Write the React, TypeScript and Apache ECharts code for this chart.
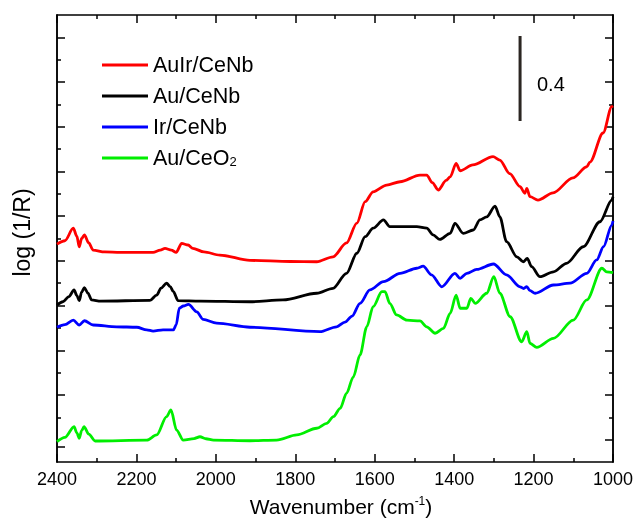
import React, { useEffect, useRef } from "react";
import * as echarts from "echarts";

// Wavenumber (cm-1), log(1/R)
const auIrCeNb: [number, number][] = [
  [2400, 0.975], [2380, 0.99], [2359, 1.046], [2350, 1.01], [2344, 0.963], [2338, 1.0], [2331, 1.016],
  [2320, 0.98], [2309, 0.948], [2280, 0.94], [2241, 0.938], [2158, 0.938], [2140, 0.948], [2128, 0.956],
  [2112, 0.948], [2100, 0.938], [2086, 0.978], [2070, 0.971], [2058, 0.956], [2030, 0.94], [1990, 0.926],
  [1914, 0.902], [1813, 0.897], [1746, 0.896], [1705, 0.918], [1671, 0.98], [1645, 1.069], [1624, 1.165],
  [1604, 1.209], [1570, 1.239], [1536, 1.254], [1486, 1.284], [1469, 1.284], [1455, 1.25], [1440, 1.217],
  [1420, 1.26], [1410, 1.276], [1395, 1.336], [1385, 1.303], [1353, 1.329], [1302, 1.366], [1285, 1.351],
  [1260, 1.29], [1234, 1.232], [1222, 1.202], [1217, 1.224], [1209, 1.187], [1189, 1.172], [1151, 1.204],
  [1101, 1.271], [1066, 1.321], [1058, 1.342], [1025, 1.472], [1003, 1.59], [1000, 1.593],
];

const auCeNb: [number, number][] = [
  [2400, 0.702], [2385, 0.717], [2370, 0.74], [2357, 0.77], [2350, 0.745], [2344, 0.722], [2338, 0.76],
  [2331, 0.78], [2322, 0.755], [2313, 0.725], [2290, 0.72], [2166, 0.723], [2149, 0.747], [2138, 0.778],
  [2124, 0.8], [2115, 0.785], [2107, 0.762], [2095, 0.722], [2040, 0.72], [1914, 0.717], [1831, 0.725],
  [1746, 0.755], [1705, 0.777], [1671, 0.844], [1645, 0.934], [1624, 1.008], [1604, 1.046], [1578, 1.083],
  [1562, 1.053], [1536, 1.053], [1494, 1.053], [1469, 1.046], [1453, 1.016], [1436, 0.996], [1410, 1.023],
  [1398, 1.068], [1377, 1.023], [1352, 1.038], [1335, 1.083], [1318, 1.097], [1297, 1.145], [1285, 1.097],
  [1268, 0.986], [1242, 0.918], [1226, 0.896], [1216, 0.911], [1205, 0.874], [1184, 0.829], [1150, 0.851],
  [1117, 0.889], [1075, 0.963], [1033, 1.075], [1003, 1.172], [1000, 1.186],
];

const irCeNb: [number, number][] = [
  [2400, 0.603], [2380, 0.615], [2359, 0.635], [2344, 0.613], [2331, 0.632], [2309, 0.613], [2250, 0.605],
  [2199, 0.603], [2174, 0.591], [2158, 0.586], [2133, 0.591], [2107, 0.591], [2100, 0.613], [2092, 0.688],
  [2082, 0.698], [2069, 0.705], [2048, 0.672], [2032, 0.638], [1998, 0.621], [1914, 0.603], [1738, 0.583],
  [1696, 0.605], [1675, 0.626], [1657, 0.653], [1637, 0.71], [1612, 0.77], [1578, 0.807], [1536, 0.844],
  [1494, 0.867], [1478, 0.876], [1457, 0.837], [1431, 0.784], [1398, 0.844], [1385, 0.822], [1368, 0.844],
  [1343, 0.862], [1301, 0.886], [1268, 0.837], [1234, 0.784], [1225, 0.776], [1217, 0.785], [1210, 0.768],
  [1196, 0.755], [1150, 0.792], [1108, 0.8], [1066, 0.844], [1041, 0.904], [1024, 0.963], [1003, 1.06],
  [1000, 1.078],
];

const auCeO2: [number, number][] = [
  [2400, 0.091], [2380, 0.11], [2357, 0.158], [2350, 0.13], [2344, 0.106], [2338, 0.14], [2332, 0.158],
  [2320, 0.125], [2304, 0.094], [2174, 0.098], [2149, 0.121], [2124, 0.203], [2113, 0.233], [2099, 0.143],
  [2082, 0.098], [2055, 0.105], [2040, 0.113], [2025, 0.104], [2006, 0.098], [1914, 0.095], [1847, 0.098],
  [1796, 0.121], [1746, 0.151], [1721, 0.173], [1704, 0.203], [1687, 0.24], [1671, 0.307], [1654, 0.38],
  [1637, 0.479], [1620, 0.605], [1604, 0.695], [1582, 0.762], [1574, 0.762], [1562, 0.71], [1545, 0.658],
  [1519, 0.635], [1486, 0.631], [1469, 0.605], [1448, 0.576], [1427, 0.598], [1410, 0.665], [1395, 0.747],
  [1385, 0.688], [1368, 0.688], [1358, 0.732], [1347, 0.71], [1318, 0.755], [1300, 0.829], [1285, 0.755],
  [1259, 0.65], [1230, 0.538], [1217, 0.583], [1209, 0.531], [1192, 0.513], [1150, 0.553], [1100, 0.635],
  [1066, 0.725], [1028, 0.867], [1016, 0.851], [1000, 0.847],
];

const seriesNames = ["AuIr/CeNb", "Au/CeNb", "Ir/CeNb", "Au/CeO2"];
const seriesColors = ["#ff0000", "#000000", "#0000ff", "#00ee00"];

// scale bar (0.4 units)
const scaleBar: [number, number][] = [[1234, 1.906], [1234, 1.526]];
const scaleBarLabel = "0.4";

const xMin = 1000;
const xMax = 2400;
const xInterval = 200;
const yMin = 0;
const yMax = 2;
const yLeftMajorTicks = [0.07, 0.3, 0.5, 0.7, 0.9, 1.1, 1.3, 1.5, 1.7, 1.9];
const yRightMajorTicks = [0.1, 0.3, 0.5, 0.7, 0.9, 1.1, 1.3, 1.5, 1.7, 1.9];
const yMinorTicks = [0.2, 0.4, 0.6, 0.8, 1.0, 1.2, 1.4, 1.6, 1.8];

const FONT = "'Liberation Sans', Arial, sans-serif";

export default function App() {
  const ref = useRef<HTMLDivElement>(null);
  useEffect(() => {
    if (!ref.current) return;
    const chart = echarts.init(ref.current, undefined, { renderer: "svg" });
    const axisLineStyle = { color: "#000", width: 1.5 };
    const mkY = (position: "left" | "right", ticks: number[], len: number, extra: any = {}) => ({
      type: "value",
      min: yMin,
      max: yMax,
      position,
      axisLine: { show: true, onZero: false, lineStyle: axisLineStyle },
      axisLabel: { show: false },
      splitLine: { show: false },
      axisTick: { show: true, inside: true, length: len, customValues: ticks, lineStyle: axisLineStyle },
      ...extra,
    });
    const mkX = (position: "top" | "bottom", showLabel: boolean, extra: any = {}) => ({
      type: "value",
      min: xMin,
      max: xMax,
      interval: xInterval,
      inverse: true,
      position,
      axisLine: { show: true, onZero: false, lineStyle: axisLineStyle },
      axisLabel: {
        show: showLabel,
        fontSize: 18,
        color: "#000",
        fontFamily: FONT,
        margin: 8,
        formatter: (v: number) => String(v),
      },
      splitLine: { show: false },
      axisTick: { show: true, inside: true, length: 8, lineStyle: axisLineStyle },
      minorTick: { show: true, splitNumber: 2, length: 4, lineStyle: axisLineStyle },
      ...extra,
    });
    const lines = [auIrCeNb, auCeNb, irCeNb, auCeO2].map((d, i) => ({
      name: seriesNames[i],
      type: "line",
      data: d,
      showSymbol: false,
      symbol: "none",
      smooth: 0.3,
      smoothMonotone: "x",
      color: seriesColors[i],
      lineStyle: { color: seriesColors[i], width: 2.8 },
      xAxisIndex: 0,
      yAxisIndex: 0,
      z: 10 - i,
    }));
    chart.setOption({
      animation: false,
      grid: { left: 57, right: 20, top: 15, bottom: 58, containLabel: false, outerBoundsMode: "none" },
      legend: {
        data: seriesNames,
        orient: "vertical",
        left: 102,
        top: 54,
        padding: 0,
        itemGap: 9,
        itemWidth: 46,
        itemHeight: 3,
        icon: "rect",
        textStyle: {
          fontSize: 21.5,
          lineHeight: 20,
          color: "#000",
          fontFamily: FONT,
          rich: {
            n: { fontSize: 21.5, lineHeight: 20, fontFamily: FONT, color: "#000" },
            s: { fontSize: 13, lineHeight: 20, fontFamily: FONT, color: "#000", verticalAlign: "bottom", padding: [7, 0, 0, 0] },
          },
        },
        formatter: (name: string) => (name === "Au/CeO2" ? "{n|Au/CeO}{s|2}" : name),
      },
      xAxis: [
        mkX("bottom", true, {
          name: "{a|Wavenumber (cm}{b|-1}{a|)}",
          nameLocation: "middle",
          nameGap: 33,
          nameTextStyle: {
            fontFamily: FONT,
            color: "#000",
            padding: [0, 0, 0, 12],
            rich: {
              a: { fontSize: 21, fontFamily: FONT, color: "#000", lineHeight: 22 },
              b: { fontSize: 12, fontFamily: FONT, color: "#000", verticalAlign: "top", lineHeight: 22, padding: [0, 0, 8, 0] },
            },
          },
        }),
        mkX("top", false),
      ],
      yAxis: [
        mkY("left", yLeftMajorTicks, 8, {
          name: "log (1/R)",
          nameLocation: "middle",
          nameGap: 24,
          nameTextStyle: { fontSize: 23, fontFamily: FONT, color: "#000", padding: [0, 0, 0, 12] },
        }),
        mkY("left", yMinorTicks, 4),
        mkY("right", yRightMajorTicks, 8),
        mkY("right", yMinorTicks, 4),
      ],
      series: [
        ...lines,
        {
          name: "scale",
          type: "line",
          data: scaleBar,
          symbol: "none",
          showSymbol: false,
          silent: true,
          lineStyle: { color: "#2b2622", width: 3 },
          xAxisIndex: 0,
          yAxisIndex: 0,
        },
      ],
      graphic: [
        {
          type: "text",
          left: 537,
          top: 74,
          style: { text: scaleBarLabel, fontSize: 20, fontFamily: FONT, fill: "#000" },
        },
      ],
    });
    return () => chart.dispose();
  }, []);
  return <div ref={ref} style={{ position: "fixed", left: 0, top: 0, width: 633, height: 520 }} />;
}
